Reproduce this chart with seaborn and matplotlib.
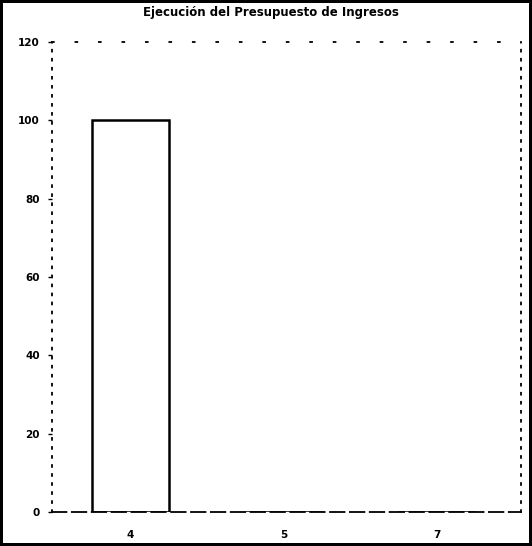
import matplotlib
matplotlib.use("Agg")
import matplotlib.pyplot as plt
import seaborn as sns
import pandas as pd

# ==============================
# DATA
# ==============================
categorias = ["4", "5", "7"]
valores = [100, 0, 0]
y_ticks = [0, 20, 40, 60, 80, 100, 120]
titulo = "Ejecución del Presupuesto de Ingresos"

df = pd.DataFrame({"categoria": categorias, "valor": valores})

# ==============================
# PLOT
# ==============================
sns.set_style("white")
plt.rcParams['font.family'] = ['DejaVu Sans']
plt.rcParams['text.color'] = 'black'
plt.rcParams['xtick.color'] = 'black'
plt.rcParams['ytick.color'] = 'black'

fig = plt.figure(figsize=(5.32, 5.46), dpi=100)
fig.patch.set_edgecolor("black")
fig.patch.set_linewidth(4)
ax = fig.add_axes([0.098, 0.062, 0.881, 0.861])

sns.barplot(data=df, x="categoria", y="valor", order=categorias,
            color="white", edgecolor="black", linewidth=1.8,
            width=0.5, ax=ax)

ax.set_xlim(-0.51, 2.55)
ax.set_ylim(0, 120)
ax.set_yticks(y_ticks)
ax.set_yticklabels([str(t) for t in y_ticks], fontsize=7.5, fontweight="bold")
ax.set_xticks(range(len(categorias)))
ax.set_xticklabels(categorias, fontsize=7.5, fontweight="bold")
ax.tick_params(axis="both", length=3, width=1, color="black", direction="out",
               left=True, bottom=False, pad=6)
ax.tick_params(axis="x", pad=10)
ax.set_xlabel("")
ax.set_ylabel("")

for side in ["left", "right", "top"]:
    ax.spines[side].set_visible(True)
    ax.spines[side].set_color("black")
    ax.spines[side].set_linewidth(1.3)
    ax.spines[side].set_linestyle((0, (1, 4)))
ax.spines["top"].set_linestyle((0, (1, 12)))
ax.spines["bottom"].set_color("black")
ax.spines["bottom"].set_linewidth(1.3)
ax.spines["bottom"].set_linestyle((0, (8, 3)))

fig.text(0.51, 0.977, titulo, ha="center", va="center",
         fontsize=8.5, fontweight="bold", color="black")

fig.savefig("out.png", dpi=100, edgecolor=fig.get_edgecolor())
